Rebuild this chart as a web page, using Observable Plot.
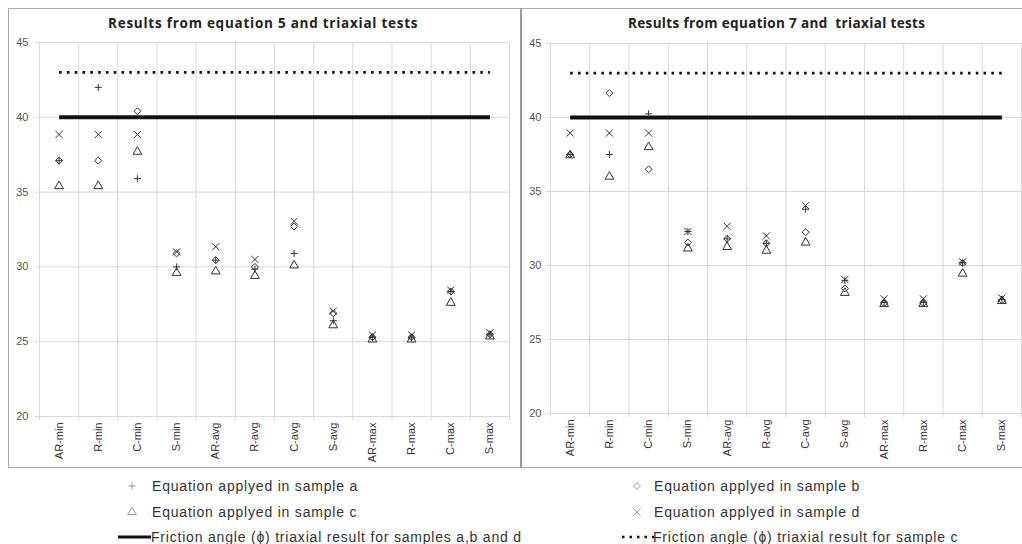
<!DOCTYPE html>
<html><head><meta charset="utf-8">
<script src="https://cdn.jsdelivr.net/npm/d3@7"></script>
<script src="https://cdn.jsdelivr.net/npm/@observablehq/plot@0.6"></script>
<style>
html,body{margin:0;padding:0;background:#fff;}
#wrap{position:relative;width:1022px;height:544px;overflow:hidden;font-family:"Liberation Sans",Arial,sans-serif;background:#fff;}
.hl{position:absolute;height:1px;background:#aaa;}
.vl{position:absolute;width:1px;background:#aaa;}
.title{position:absolute;top:14px;font-family:"Open Sans",sans-serif;font-weight:bold;font-size:13.5px;color:#222;white-space:nowrap;}
.panel{position:absolute;}
.panel svg{display:block;}
.leg{position:absolute;font-size:14px;color:#333;white-space:nowrap;letter-spacing:0.8px;line-height:16px;}
.mk{position:absolute;line-height:0;}
.mk svg{display:block;}
</style></head><body><div id="wrap"></div>
<script>
// ---- data ----
const categories = ["AR-min","R-min","C-min","S-min","AR-avg","R-avg","C-avg","S-avg","AR-max","R-max","C-max","S-max"];
const yTicks = [20, 25, 30, 35, 40, 45];
const frictionABD = 40;   // triaxial result for samples a, b and d
const frictionC = 43;     // triaxial result for sample c

// Equation 5
const eq5SampleA = [37.1, 42.0, 35.9, 30.0, 30.45, 29.85, 30.9, 26.4, 25.3, 25.25, 28.35, 25.45];
const eq5SampleB = [37.1, 37.1, 40.4, 30.9, 30.45, 30.0, 32.7, 26.9, 25.3, 25.3, 28.35, 25.5];
const eq5SampleC = [35.4, 35.4, 37.7, 29.6, 29.7, 29.4, 30.1, 26.1, 25.15, 25.15, 27.6, 25.35];
const eq5SampleD = [38.85, 38.85, 38.85, 31.0, 31.35, 30.5, 33.05, 27.05, 25.45, 25.45, 28.45, 25.6];

// Equation 7
const eq7SampleA = [37.5, 37.5, 40.25, 32.3, 31.8, 31.5, 33.8, 29.0, 27.5, 27.5, 30.2, 27.7];
const eq7SampleB = [37.5, 41.65, 36.5, 31.55, 31.8, 31.5, 32.25, 28.45, 27.45, 27.45, 30.15, 27.65];
const eq7SampleC = [37.45, 36.0, 38.0, 31.15, 31.25, 31.0, 31.55, 28.15, 27.4, 27.4, 29.45, 27.6];
const eq7SampleD = [38.95, 38.95, 38.95, 32.3, 32.65, 32.0, 34.05, 29.05, 27.75, 27.75, 30.25, 27.8];

const titles = ["Results from equation 5 and triaxial tests", "Results from equation 7 and\u00a0 triaxial tests"];
const legendLabels = {
  a: "Equation applyed in sample a",
  b: "Equation applyed in sample b",
  c: "Equation applyed in sample c",
  d: "Equation applyed in sample d",
  abd: "Friction angle (\u03d5) triaxial result for samples a,b and d",
  cc: "Friction angle (\u03d5) triaxial result for sample c"
};

// ---- drawing ----
const wrap = document.getElementById("wrap");
function add(cls, css, html) {
  const el = document.createElement("div");
  el.className = cls;
  Object.assign(el.style, css);
  if (html != null) el.innerHTML = html;
  wrap.appendChild(el);
  return el;
}

const MK = "#333";
const symR = {plus: 2.4, diamond2: 3.15, triangle2: 4.2, times: 3.3};

function makePanel(a, b, c, d, o) {
  const idx = categories.map((_, i) => i + 0.5);
  const pts = arr => arr.map((v, i) => ({x: i + 0.5, y: v}));
  const ref = v => categories.map((_, i) => ({x: i + 0.5, y: v}));
  return Plot.plot({
    width: o.width, height: o.height,
    marginLeft: o.mL, marginRight: o.mR, marginTop: o.mT, marginBottom: o.mB,
    style: {background: "transparent", color: "#555", fontFamily: "Liberation Sans, Arial, sans-serif", overflow: "visible"},
    x: {type: "linear", domain: [0, categories.length], axis: null, label: null},
    y: {domain: [20, 45], axis: null, label: null},
    marks: [
      Plot.ruleY(yTicks, {stroke: "#d9d9d9"}),
      Plot.ruleX(d3.range(categories.length + 1), {stroke: "#d9d9d9"}),
      Plot.axisY(yTicks, {tickSize: 4, stroke: "#d9d9d9", fill: "#555", tickPadding: o.yPad, fontSize: 11, label: null}),
      Plot.axisX(d3.range(categories.length + 1), {tickSize: 4, stroke: "#d9d9d9", tickFormat: () => "", label: null}),
      Plot.axisX(idx, {tickSize: 0, tickRotate: -90, tickPadding: 6, fill: "#333", fontSize: 11, label: null,
        tickFormat: v => categories[Math.round(v - 0.5)]}),
      Plot.line(ref(frictionC), {x: "x", y: "y", stroke: "#111", strokeWidth: 2.6, strokeLinecap: "butt", strokeDasharray: "2.6 5.2"}),
      Plot.line(ref(frictionABD), {x: "x", y: "y", stroke: "#111", strokeWidth: 4, strokeLinecap: "butt"}),
      Plot.dot(pts(c), {x: "x", y: "y", symbol: "triangle2", r: symR.triangle2, stroke: MK, fill: "none", strokeWidth: 1}),
      Plot.dot(pts(b), {x: "x", y: "y", symbol: "diamond2", r: symR.diamond2, stroke: MK, fill: "none", strokeWidth: 1}),
      Plot.dot(pts(a), {x: "x", y: "y", symbol: "plus", r: symR.plus, stroke: MK, fill: "none", strokeWidth: 1}),
      Plot.dot(pts(d), {x: "x", y: "y", symbol: "times", r: symR.times, stroke: MK, fill: "none", strokeWidth: 1})
    ]
  });
}

// frame
add("hl", {left: "8px", top: "8px", width: "1014px"});
add("hl", {left: "8px", top: "467px", width: "1014px"});
add("vl", {left: "8px", top: "8px", height: "460px"});
add("vl", {left: "520px", top: "8px", height: "460px", width: "2px", background: "#999"});

// panels
const p1 = makePanel(eq5SampleA, eq5SampleB, eq5SampleC, eq5SampleD,
  {width: 510, height: 458, mL: 31, mR: 9, mT: 34, mB: 50, yPad: 7});
add("panel", {left: "8px", top: "8px"}).appendChild(p1);
const p2 = makePanel(eq7SampleA, eq7SampleB, eq7SampleC, eq7SampleD,
  {width: 500, height: 459, mL: 28, mR: 1, mT: 35, mB: 54, yPad: 5});
add("panel", {left: "522px", top: "8px"}).appendChild(p2);

// titles
add("title", {left: "108px", letterSpacing: "0.75px"}, titles[0]);
add("title", {left: "628px", letterSpacing: "0.35px"}, titles[1]);

// legend
function symSvg(name, r) {
  const map = {plus: d3.symbolPlus, diamond2: d3.symbolDiamond2, triangle2: d3.symbolTriangle2, times: d3.symbolTimes};
  const path = d3.symbol(map[name], r * r * Math.PI)();
  return `<svg width="12" height="12" viewBox="-6 -6 12 12"><path d="${path}" fill="none" stroke="#999" stroke-width="1"/></svg>`;
}
const legRows = [486, 512, 537];
add("mk", {left: "126px", top: (legRows[0] - 6) + "px"}, symSvg("plus", symR.plus));
add("leg", {left: "152px", top: (legRows[0] - 8) + "px"}, legendLabels.a);
add("mk", {left: "631px", top: (legRows[0] - 6) + "px"}, symSvg("diamond2", symR.diamond2));
add("leg", {left: "654px", top: (legRows[0] - 8) + "px"}, legendLabels.b);
add("mk", {left: "126px", top: (legRows[1] - 6) + "px"}, symSvg("triangle2", symR.triangle2));
add("leg", {left: "152px", top: (legRows[1] - 8) + "px"}, legendLabels.c);
add("mk", {left: "631px", top: (legRows[1] - 6) + "px"}, symSvg("times", symR.times));
add("leg", {left: "654px", top: (legRows[1] - 8) + "px"}, legendLabels.d);
add("mk", {left: "118px", top: (legRows[2] - 2) + "px"},
  `<svg width="33" height="4"><line x1="0" y1="2" x2="33" y2="2" stroke="#111" stroke-width="3"/></svg>`);
add("leg", {left: "151px", top: (legRows[2] - 8) + "px"}, legendLabels.abd);
add("mk", {left: "621px", top: (legRows[2] - 2) + "px"},
  `<svg width="33" height="4"><line x1="1" y1="2" x2="33" y2="2" stroke="#111" stroke-width="2.5" stroke-dasharray="2.5 5"/></svg>`);
add("leg", {left: "653px", top: (legRows[2] - 8) + "px"}, legendLabels.cc);
</script></body></html>
